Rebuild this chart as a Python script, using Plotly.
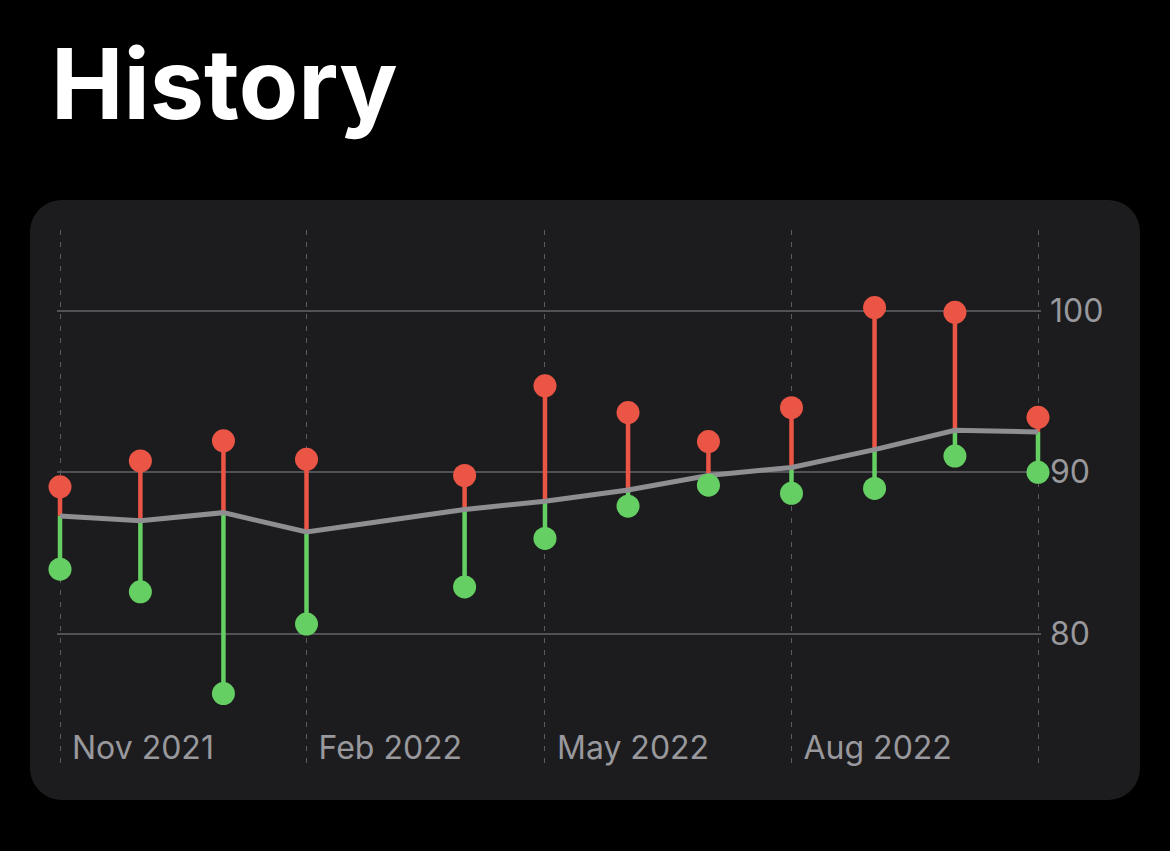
import pandas as pd
import plotly.graph_objects as go

# ---- data ----
dates = ["2021-11-01", "2021-12-01", "2022-01-01", "2022-02-01", "2022-04-01",
         "2022-05-01", "2022-06-01", "2022-07-01", "2022-08-01", "2022-09-01",
         "2022-10-01", "2022-11-01"]
high = [89.1, 90.7, 91.95, 90.8, 89.8, 95.35, 93.7, 91.9, 94.0, 100.2, 99.9, 93.4]
low = [84.0, 82.6, 76.3, 80.6, 82.9, 85.9, 87.9, 89.2, 88.7, 89.0, 91.0, 90.0]
avg = [87.3, 87.0, 87.5, 86.3, 87.7, 88.2, 88.9, 89.8, 90.3, 91.4, 92.6, 92.5]

x_tickvals = ["2021-11-01", "2022-02-01", "2022-05-01", "2022-08-01", "2022-11-01"]
x_ticktext = ["Nov 2021", "Feb 2022", "May 2022", "Aug 2022", ""]
y_tickvals = [80, 90, 100]

RED = "#eb5545"
GREEN = "#65cf63"
GRAY = "#8e8e93"
HGRID = "#525256"
VGRID = "#5c5c60"
LABEL = "#98989d"
CARD = "#1c1c1e"

W, H = 1170, 851
PAD = 3  # px of breathing room so edge gridlines / stems are not clipped
L, R, T, B = 60 - PAD, 132 - PAD, 230, 88
PW, PH = W - L - R, H - T - B

start, end = pd.Timestamp("2021-11-01"), pd.Timestamp("2022-11-01")
px_per_day = (W - 60 - 132) / (end - start).days
ext = pd.Timedelta(days=PAD / px_per_day)
x_range = [str(start - ext), str(end + ext)]


def fx(px):
    return (px - L) / PW


def fy(py):
    return (H - B - py) / PH


def card_path(x0, y0, x1, y1, r):
    k = 0.5523 * r
    pts = [
        f"M {fx(x0 + r)},{fy(y0)}",
        f"L {fx(x1 - r)},{fy(y0)}",
        f"C {fx(x1 - r + k)},{fy(y0)} {fx(x1)},{fy(y0 + r - k)} {fx(x1)},{fy(y0 + r)}",
        f"L {fx(x1)},{fy(y1 - r)}",
        f"C {fx(x1)},{fy(y1 - r + k)} {fx(x1 - r + k)},{fy(y1)} {fx(x1 - r)},{fy(y1)}",
        f"L {fx(x0 + r)},{fy(y1)}",
        f"C {fx(x0 + r - k)},{fy(y1)} {fx(x0)},{fy(y1 - r + k)} {fx(x0)},{fy(y1 - r)}",
        f"L {fx(x0)},{fy(y0 + r)}",
        f"C {fx(x0)},{fy(y0 + r - k)} {fx(x0 + r - k)},{fy(y0)} {fx(x0 + r)},{fy(y0)}",
        "Z",
    ]
    return " ".join(pts)


# stems built from the data
rx, ry, gx, gy = [], [], [], []
for d, h, lo, a in zip(dates, high, low, avg):
    rx += [d, d, None]
    ry += [a, h, None]
    gx += [d, d, None]
    gy += [a, lo, None]

fig = go.Figure()
fig.add_trace(go.Scatter(x=rx, y=ry, mode="lines", line=dict(color=RED, width=4.5),
                         cliponaxis=False, hoverinfo="skip", showlegend=False))
fig.add_trace(go.Scatter(x=gx, y=gy, mode="lines", line=dict(color=GREEN, width=4.5),
                         cliponaxis=False, hoverinfo="skip", showlegend=False))
fig.add_trace(go.Scatter(x=dates, y=avg, mode="lines", line=dict(color=GRAY, width=5),
                         cliponaxis=False, showlegend=False))
fig.add_trace(go.Scatter(x=dates, y=high, mode="markers",
                         marker=dict(color=RED, size=23, line=dict(width=0)),
                         cliponaxis=False, showlegend=False))
fig.add_trace(go.Scatter(x=dates, y=low, mode="markers",
                         marker=dict(color=GREEN, size=23, line=dict(width=0)),
                         cliponaxis=False, showlegend=False))

fig.update_layout(
    width=W, height=H, autosize=False,
    margin=dict(l=L, r=R, t=T, b=B, pad=0),
    paper_bgcolor="#000000",
    plot_bgcolor="rgba(0,0,0,0)",
    font=dict(family="Inter", color=LABEL, size=30),
    hovermode=False,
    shapes=[dict(type="path", xref="paper", yref="paper", path=card_path(30, 200, 1140, 800, 32),
                 fillcolor=CARD, line=dict(width=0), layer="below")],
    annotations=[dict(text="History", xref="paper", yref="paper", x=fx(49), y=fy(83),
                      xanchor="left", yanchor="middle", showarrow=False,
                      font=dict(family="Inter", size=97, color="#ffffff", weight=700))],
    xaxis=dict(
        type="date", range=x_range,
        tickmode="array", tickvals=x_tickvals, ticktext=x_ticktext,
        showgrid=True, gridcolor=VGRID, gridwidth=1.2, griddash="5px,7px",
        showline=False, zeroline=False, ticks="",
        ticklabelposition="inside right",
        ticklabelshift=12, ticklabelstandoff=-8,
        tickfont=dict(family="Inter", size=32, color=LABEL),
        fixedrange=True,
    ),
    yaxis=dict(
        side="right", range=[72, 105],
        tickmode="array", tickvals=y_tickvals,
        showgrid=True, gridcolor=HGRID, gridwidth=1.5,
        showline=False, zeroline=False, ticks="",
        ticklabelstandoff=8,
        tickfont=dict(family="Inter", size=32, color=LABEL),
        fixedrange=True,
    ),
)

fig.write_html("out.html", config={"displayModeBar": False},
               post_script="document.body.style.margin='0';document.body.style.background='#000';")
